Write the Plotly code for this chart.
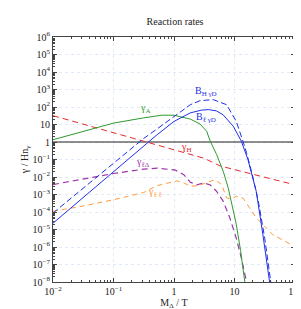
import plotly.graph_objects as go

# ---- data ----
x_gA = [0.01, 0.0316, 0.1, 0.316, 0.631, 1.0, 1.41, 1.86, 2.69, 3.47, 3.98, 5.07, 6.52, 7.89, 10.7, 12.6, 14.8]
y_gA = [1.35, 4.0, 12.0, 24.0, 34.0, 34.0, 27.0, 20.4, 10.7, 4.1, 1.1, 0.19, 0.021, 2.3e-3, 2.0e-5, 6.3e-7, 1.0e-8]

x_gH = [0.01, 0.1, 1.0, 2.0, 3.16, 5.75, 10.0, 20.4, 39.8, 100.0]
y_gH = [32.0, 3.4, 0.355, 0.19, 0.117, 0.043, 0.026, 0.0138, 7.9e-3, 3.6e-3]

x_BH = [0.01, 0.0316, 0.1, 0.316, 0.525, 1.12, 1.86, 2.69, 4.47, 7.41, 10.7, 13.8, 15.8, 20.0, 25.1, 31.6, 39.8]
y_BH = [8.7e-5, 2.3e-3, 0.063, 1.6, 5.6, 36.0, 135.0, 230.0, 263.0, 135.0, 15.0, 1.1, 0.25, 0.011, 3.2e-4, 3.2e-6, 1.0e-8]

x_Bl = [0.01, 0.0316, 0.1, 0.316, 0.525, 1.0, 1.86, 2.82, 3.72, 5.01, 6.46, 9.55, 13.0, 16.7, 20.3, 22.9, 29.5, 38.0]
y_Bl = [2.3e-5, 6.8e-4, 0.02, 0.59, 2.6, 15.0, 46.0, 66.0, 71.0, 60.0, 36.0, 7.9, 1.1, 0.098, 6.3e-3, 1.5e-3, 5.0e-6, 1.0e-8]

x_glD = [0.01, 0.0316, 0.1, 0.316, 0.525, 1.05, 1.45, 1.86, 2.40, 3.09, 3.98, 5.07, 6.52, 8.38, 10.7, 13.0, 15.8]
y_glD = [3.7e-3, 7.9e-3, 0.0158, 0.028, 0.032, 0.025, 0.0135, 5.0e-3, 3.6e-3, 4.6e-3, 3.5e-3, 1.5e-3, 4.1e-4, 4.6e-5, 3.2e-6, 2.3e-7, 1.0e-8]

x_gll = [0.01, 0.0316, 0.1, 0.316, 0.525, 1.12, 1.45, 1.86, 2.51, 3.47, 4.79, 6.17, 7.41, 8.91, 10.7, 13.8, 22.9, 43.2, 100.0]
y_gll = [1.1e-4, 2.2e-4, 5.0e-4, 1.3e-3, 3.2e-3, 6.0e-3, 4.6e-3, 2.95e-3, 3.2e-3, 4.6e-3, 7.1e-3, 3.6e-3, 6.3e-4, 5.6e-4, 7.9e-4, 6.3e-4, 4.6e-5, 5.0e-6, 1.05e-6]

x_one = [0.01, 100.0]
y_one = [1.0, 1.0]

# tick labels
x_tickvals = [0.01, 0.1, 1, 10, 100]
x_ticktext = ["10<sup>−2</sup>", "10<sup>−1</sup>", "1", "10", "10<sup>2</sup>"]
y_tickvals = [10.0 ** k for k in range(-8, 7)]
y_ticktext = ["10<sup>−%d</sup>" % (-k) if k < 0 else ("1" if k == 0 else ("10" if k == 1 else "10<sup>%d</sup>" % k)) for k in range(-8, 7)]

GREEN = "#2e9a2e"
RED = "#e8292b"
BLUE = "#1f2fe6"
PURPLE = "#9b35a8"
ORANGE = "#ff9a3a"
FONT = "Liberation Serif"

fig = go.Figure()
fig.add_trace(go.Scatter(x=x_one, y=y_one, mode="lines", line=dict(color="#222222", width=1.2)))
fig.add_trace(go.Scatter(x=x_gll, y=y_gll, mode="lines", line=dict(color=ORANGE, width=1, dash="5px,4px")))
fig.add_trace(go.Scatter(x=x_glD, y=y_glD, mode="lines", line=dict(color=PURPLE, width=1.2, dash="6px,4px")))
fig.add_trace(go.Scatter(x=x_gH, y=y_gH, mode="lines", line=dict(color=RED, width=1, dash="6px,4px")))
fig.add_trace(go.Scatter(x=x_gA, y=y_gA, mode="lines", line=dict(color=GREEN, width=1)))
fig.add_trace(go.Scatter(x=x_Bl, y=y_Bl, mode="lines", line=dict(color=BLUE, width=1)))
fig.add_trace(go.Scatter(x=x_BH, y=y_BH, mode="lines", line=dict(color=BLUE, width=1, dash="6px,3px")))

labels = [
    (-0.48, 1.91, "γ<sub>A</sub>", GREEN),
    (0.2, -0.34, "γ<sub>H</sub>", RED),
    (0.53, 2.88, "B<sub>H γD</sub>", BLUE),
    (0.53, 1.42, "B<sub>ℓ γD</sub>", BLUE),
    (-0.51, -1.17, "γ<sub>ℓΔ</sub>", PURPLE),
    (-0.31, -2.91, "γ<sub>ℓ ℓ</sub>", ORANGE),
]
annotations = [dict(x=lx, y=ly, xref="x", yref="y", text=t, showarrow=False,
                    font=dict(family=FONT, size=10, color=c)) for lx, ly, t, c in labels]

minor_x = [m * 10.0 ** k for k in range(-2, 2) for m in range(2, 10)]
minor_y = [m * 10.0 ** k for k in range(-8, 6) for m in range(2, 10)]

axis_common = dict(type="log", showline=True, linecolor="#444444", linewidth=1, mirror="allticks",
                   ticks="inside", ticklen=4, tickcolor="#444444", zeroline=False,
                   showgrid=True, gridcolor="#e3eaf7", griddash="dot", gridwidth=0.8,
                   tickfont=dict(family=FONT, size=10, color="#222222"))

fig.update_layout(
    template="none",
    width=301, height=309,
    margin=dict(l=45, r=14, t=29, b=35),
    paper_bgcolor="white", plot_bgcolor="white",
    showlegend=False,
    title=dict(text="Reaction rates", x=0.555, xanchor="center", y=0.955, yanchor="middle",
               font=dict(family=FONT, size=10, color="#222222")),
    annotations=annotations,
    xaxis=dict(axis_common, range=[-2, 2], tickmode="array", tickvals=x_tickvals, ticktext=x_ticktext,
               minor=dict(tickmode="array", tickvals=minor_x, ticks="inside", ticklen=2,
                          tickcolor="#444444", showgrid=False),
               title=dict(text="M<sub>Δ</sub> / T", font=dict(family=FONT, size=10, color="#222222"), standoff=0)),
    yaxis=dict(axis_common, range=[-8, 6], tickmode="array", tickvals=y_tickvals, ticktext=y_ticktext,
               minor=dict(tickmode="array", tickvals=minor_y, ticks="inside", ticklen=2,
                          tickcolor="#444444", showgrid=False),
               title=dict(text="γ / Hn<sub>γ</sub>", font=dict(family=FONT, size=10, color="#222222"), standoff=2)),
)

fig.write_html("out.html")
